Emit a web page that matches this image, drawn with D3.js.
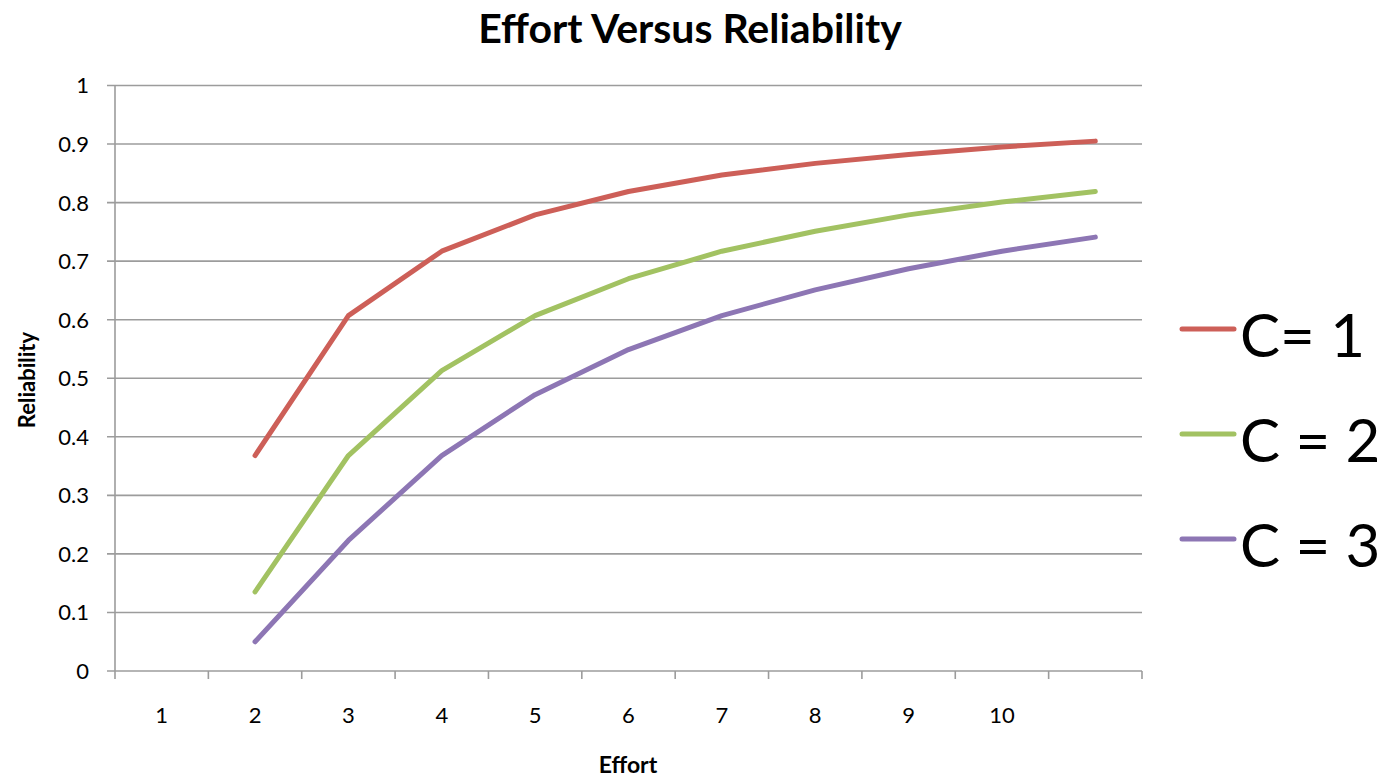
<!DOCTYPE html>
<html>
<head>
<meta charset="utf-8">
<script src="https://cdn.jsdelivr.net/npm/d3@7"></script>
<style>
  body { margin: 0; background: #fff; }
  svg { display: block; font-family: Lato, "Open Sans", sans-serif; }
</style>
</head>
<body>
<svg id="chart" width="1388" height="778"></svg>
<script>
// chart values
const categories = [1, 2, 3, 4, 5, 6, 7, 8, 9, 10, 11];
const tickLabels = ["1", "2", "3", "4", "5", "6", "7", "8", "9", "10", ""];
const c1Values = [null, 0.368, 0.607, 0.717, 0.779, 0.819, 0.847, 0.867, 0.882, 0.895, 0.905];
const c2Values = [null, 0.135, 0.368, 0.513, 0.607, 0.670, 0.717, 0.751, 0.779, 0.801, 0.819];
const c3Values = [null, 0.050, 0.223, 0.368, 0.472, 0.549, 0.607, 0.651, 0.687, 0.717, 0.741];
const seriesNames = ["C= 1", "C = 2", "C = 3"];
const yTicks = [0, 0.1, 0.2, 0.3, 0.4, 0.5, 0.6, 0.7, 0.8, 0.9, 1];

const colors = ["#CD5F58", "#A2C262", "#8D76B4"];
const gridColor = "#9c9c9c";

const svg = d3.select("#chart");
const plotLeft = 115, plotRight = 1142, plotTop = 85.5, plotBottom = 671;

const x = d3.scaleBand().domain(categories).range([plotLeft, plotRight]).padding(0);
const y = d3.scaleLinear().domain([0, 1]).range([plotBottom, plotTop]);

// horizontal gridlines (they stick out left of the axis as tick marks)
svg.append("g")
  .selectAll("line")
  .data(yTicks)
  .enter().append("line")
    .attr("x1", plotLeft - 8)
    .attr("x2", plotRight)
    .attr("y1", d => y(d))
    .attr("y2", d => y(d))
    .attr("stroke", gridColor)
    .attr("stroke-width", 1.6);

// y axis line
svg.append("line")
  .attr("x1", plotLeft).attr("x2", plotLeft)
  .attr("y1", plotTop).attr("y2", plotBottom)
  .attr("stroke", gridColor)
  .attr("stroke-width", 1.6);

// y tick labels
svg.append("g")
  .selectAll("text")
  .data(yTicks)
  .enter().append("text")
    .attr("x", plotLeft - 26)
    .attr("y", d => y(d))
    .attr("dy", "0.36em")
    .attr("text-anchor", "end")
    .style("font-size", "22px")
    .attr("fill", "#000")
    .text(d => String(+d.toFixed(1)));

// x axis: tick marks on the band edges
const edges = categories.map(c => x(c)).concat([plotRight]);
svg.append("g")
  .selectAll("line")
  .data(edges)
  .enter().append("line")
    .attr("x1", d => d).attr("x2", d => d)
    .attr("y1", plotBottom).attr("y2", plotBottom + 8)
    .attr("stroke", gridColor)
    .attr("stroke-width", 1.6);

svg.append("g")
  .selectAll("text")
  .data(categories)
  .enter().append("text")
    .attr("x", d => x(d) + x.bandwidth() / 2)
    .attr("y", 723)
    .attr("text-anchor", "middle")
    .style("font-size", "22px")
    .attr("fill", "#000")
    .text((d, i) => tickLabels[i]);

// lines
const allSeries = [c1Values, c2Values, c3Values];
const line = d3.line()
  .defined(d => d != null)
  .x((d, i) => x(categories[i]) + x.bandwidth() / 2)
  .y(d => y(d));

svg.append("g")
  .selectAll("path")
  .data(allSeries)
  .enter().append("path")
    .attr("d", line)
    .attr("fill", "none")
    .attr("stroke", (d, i) => colors[i])
    .attr("stroke-width", 5)
    .attr("stroke-linecap", "round")
    .attr("stroke-linejoin", "round");

// titles
svg.append("text")
  .attr("x", 690)
  .attr("y", 43)
  .attr("text-anchor", "middle")
  .style("font-size", "41px")
  .style("font-weight", "bold")
  .text("Effort Versus Reliability");

svg.append("text")
  .attr("transform", "translate(35,380) rotate(-90)")
  .attr("text-anchor", "middle")
  .style("font-size", "22px")
  .style("font-weight", "bold")
  .text("Reliability");

svg.append("text")
  .attr("x", 628)
  .attr("y", 773)
  .attr("text-anchor", "middle")
  .style("font-size", "23px")
  .style("font-weight", "bold")
  .text("Effort");

// legend
const legendY = [329, 434, 539];
const legend = svg.append("g")
  .selectAll("g")
  .data(seriesNames)
  .enter().append("g")
    .attr("transform", (d, i) => "translate(0," + legendY[i] + ")");

legend.append("line")
  .attr("x1", 1182).attr("x2", 1234)
  .attr("stroke", (d, i) => colors[i])
  .attr("stroke-width", 5)
  .attr("stroke-linecap", "round");

legend.append("text")
  .attr("x", 1240)
  .attr("y", 28)
  .style("font-size", "60px")
  .attr("fill", "#000")
  .text(d => d);
</script>
</body>
</html>
